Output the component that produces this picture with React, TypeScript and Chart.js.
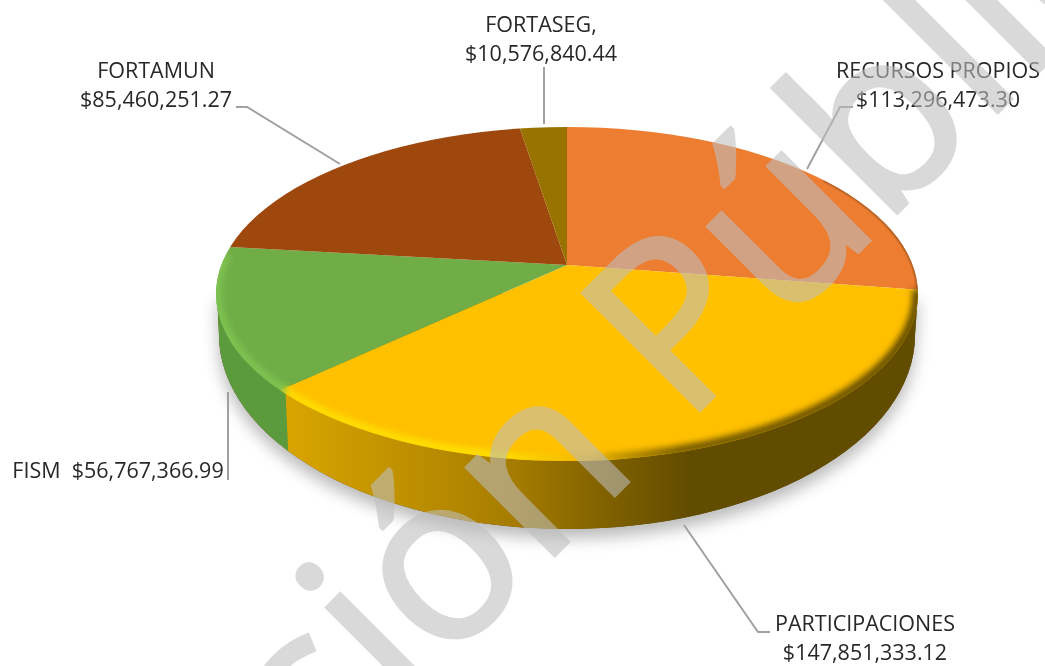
import React, { useEffect, useRef } from "react";
import { Chart, registerables } from "chart.js";

Chart.register(...registerables);

const categories = ["RECURSOS PROPIOS", "PARTICIPACIONES", "FISM", "FORTAMUN", "FORTASEG,"];
const values = [113296473.3, 147851333.12, 56767366.99, 85460251.27, 10576840.44];
const colors = ["#ED7D31", "#FFC000", "#70AD47", "#9E480E", "#997300"];
const watermark = "Versión Pública";

const W = 1045;
const H = 666;
const FONT = '21.5px "Open Sans"';
const APEX = { x: 567, y: 265 };
const TILT = 0.47;
const REACH = 470;
const TOP = { x: 567, y: 294, rx: 351, ry: 167 };
const BASE = { x: 567, y: 335, rx: 348, ry: 194 };

const money = (v: number) =>
  "$" + v.toLocaleString("en-US", { minimumFractionDigits: 2, maximumFractionDigits: 2 });

const labelLayout = [
  { x: 938, y: 72, split: true },
  { x: 865, y: 625, split: true },
  { x: 118, y: 472, split: false },
  { x: 156, y: 72, split: true },
  { x: 541, y: 26, split: true },
];
const leaders = [
  [[853, 107], [840, 107], [807, 169]],
  [[770, 632], [758, 632], [684, 525]],
  [[228, 392], [228, 480]],
  [[236, 107], [247, 107], [340, 164]],
  [[544, 67], [544, 124]],
];

const pie3d = {
  id: "pie3d",
  beforeDatasetsDraw(chart: any) {
    const ctx: CanvasRenderingContext2D = chart.ctx;
    const wall = () => {
      ctx.beginPath();
      ctx.moveTo(918, 293);
      ctx.lineTo(BASE.x + BASE.rx, BASE.y);
      ctx.ellipse(BASE.x, BASE.y, BASE.rx, BASE.ry, 0, 0, Math.PI);
      ctx.lineTo(217, 293);
      ctx.closePath();
    };
    // Soft shadow, then the two visible side walls
    ctx.save();
    ctx.shadowColor = "rgba(0,0,0,0.28)";
    ctx.shadowBlur = 16;
    ctx.shadowOffsetY = 9;
    ctx.shadowOffsetX = 0;
    ctx.fillStyle = "#614c00";
    wall();
    ctx.fill();
    ctx.restore();

    ctx.save();
    wall();
    ctx.clip();
    const g = ctx.createLinearGradient(288, 0, 915, 0);
    g.addColorStop(0, "#d8a400");
    g.addColorStop(0.2, "#bd8f00");
    g.addColorStop(0.36, "#a57c00");
    g.addColorStop(0.52, "#7d5f00");
    g.addColorStop(0.64, "#624c00");
    g.addColorStop(1, "#614c00");
    ctx.fillStyle = g;
    ctx.fillRect(280, 260, 660, 300);
    ctx.fillStyle = "#5c9a3e";
    ctx.beginPath();
    ctx.moveTo(200, 280);
    ctx.lineTo(285, 380);
    ctx.lineTo(289, 470);
    ctx.lineTo(200, 470);
    ctx.closePath();
    ctx.fill();
    ctx.restore();

    // Top face: the library's arcs, seen through the tilt and cut by the rim
    ctx.save();
    ctx.beginPath();
    ctx.ellipse(TOP.x, TOP.y, TOP.rx, TOP.ry, 0, 0, Math.PI * 2);
    ctx.clip();
    const arc = chart.getDatasetMeta(0).data[0];
    const s = REACH / arc.outerRadius;
    ctx.translate(APEX.x, APEX.y);
    ctx.scale(s, s * TILT);
    ctx.translate(-arc.x, -arc.y);
  },
  afterDatasetsDraw(chart: any) {
    const ctx: CanvasRenderingContext2D = chart.ctx;
    ctx.restore();
    // Rim bevel
    ctx.save();
    ctx.beginPath();
    ctx.ellipse(TOP.x, TOP.y, TOP.rx, TOP.ry, 0, 0, Math.PI * 2);
    ctx.clip();
    const g = ctx.createLinearGradient(217, 0, 918, 0);
    g.addColorStop(0, "#7fc452");
    g.addColorStop(0.095, "#7fc452");
    g.addColorStop(0.1, "#ffdd00");
    g.addColorStop(0.4, "#ffe000");
    g.addColorStop(0.52, "#f2b800");
    g.addColorStop(0.66, "#6e5600");
    g.addColorStop(1, "#5c4700");
    ctx.filter = "blur(3px)";
    ctx.strokeStyle = g;
    ctx.lineWidth = 9;
    ctx.beginPath();
    ctx.ellipse(TOP.x, TOP.y - 1, TOP.rx - 1, TOP.ry - 1, 0, -0.02, Math.PI + 0.24);
    ctx.stroke();
    ctx.filter = "blur(0.8px)";
    ctx.strokeStyle = "rgba(90,50,10,0.7)";
    ctx.lineWidth = 2;
    ctx.beginPath();
    ctx.ellipse(TOP.x, TOP.y, TOP.rx, TOP.ry, 0, -0.75, -0.02);
    ctx.stroke();
    ctx.restore();
  },
  afterDraw(chart: any) {
    const ctx: CanvasRenderingContext2D = chart.ctx;
    // Leader lines
    ctx.save();
    ctx.filter = "blur(0.4px)";
    ctx.strokeStyle = "#a0a0a0";
    ctx.lineWidth = 2;
    leaders.forEach((pts) => {
      ctx.beginPath();
      pts.forEach(([x, y], i) => (i ? ctx.lineTo(x, y) : ctx.moveTo(x, y)));
      ctx.stroke();
    });
    // Data labels
    ctx.fillStyle = "#282828";
    ctx.font = FONT;
    ctx.textAlign = "center";
    ctx.textBaseline = "middle";
    categories.forEach((c, i) => {
      const l = labelLayout[i];
      if (l.split) {
        ctx.fillText(c, l.x, l.y);
        ctx.fillText(money(values[i]), l.x, l.y + 28.5);
      } else {
        ctx.fillText(c + "  " + money(values[i]), l.x, l.y);
      }
    });
    ctx.restore();
    // Watermark, over everything: drawn opaque on a layer so its thickened
    // strokes do not double up, then laid on with one alpha.
    const layer = document.createElement("canvas");
    layer.width = W;
    layer.height = H;
    const lc = layer.getContext("2d")!;
    lc.font = '232px "Open Sans"';
    lc.fillStyle = "rgb(190,190,190)";
    lc.strokeStyle = "rgb(190,190,190)";
    lc.lineWidth = 4;
    lc.lineJoin = "miter";
    lc.textAlign = "left";
    lc.textBaseline = "alphabetic";
    const before = lc.measureText("Versión ").width;
    lc.translate(684, 426);
    lc.rotate(-Math.PI / 4);
    lc.fillText(watermark, -before, 0);
    lc.strokeText(watermark, -before, 0);
    ctx.save();
    ctx.globalAlpha = 0.58;
    ctx.drawImage(layer, 0, 0);
    ctx.restore();
  },
};

export default function App() {
  const ref = useRef<HTMLCanvasElement>(null);
  useEffect(() => {
    const chart = new Chart(ref.current!, {
      type: "pie",
      data: {
        labels: categories,
        datasets: [{ data: values, backgroundColor: colors, borderWidth: 0, clip: false } as any],
      },
      options: {
        animation: false,
        responsive: false,
        rotation: 0,
        plugins: { legend: { display: false }, tooltip: { enabled: false } },
      },
      plugins: [pie3d],
    });
    return () => chart.destroy();
  }, []);
  return (
    <div style={{ position: "absolute", left: 0, top: 0, width: W, height: H, background: "#fff" }}>
      <canvas ref={ref} width={W} height={H} style={{ display: "block" }} />
    </div>
  );
}
